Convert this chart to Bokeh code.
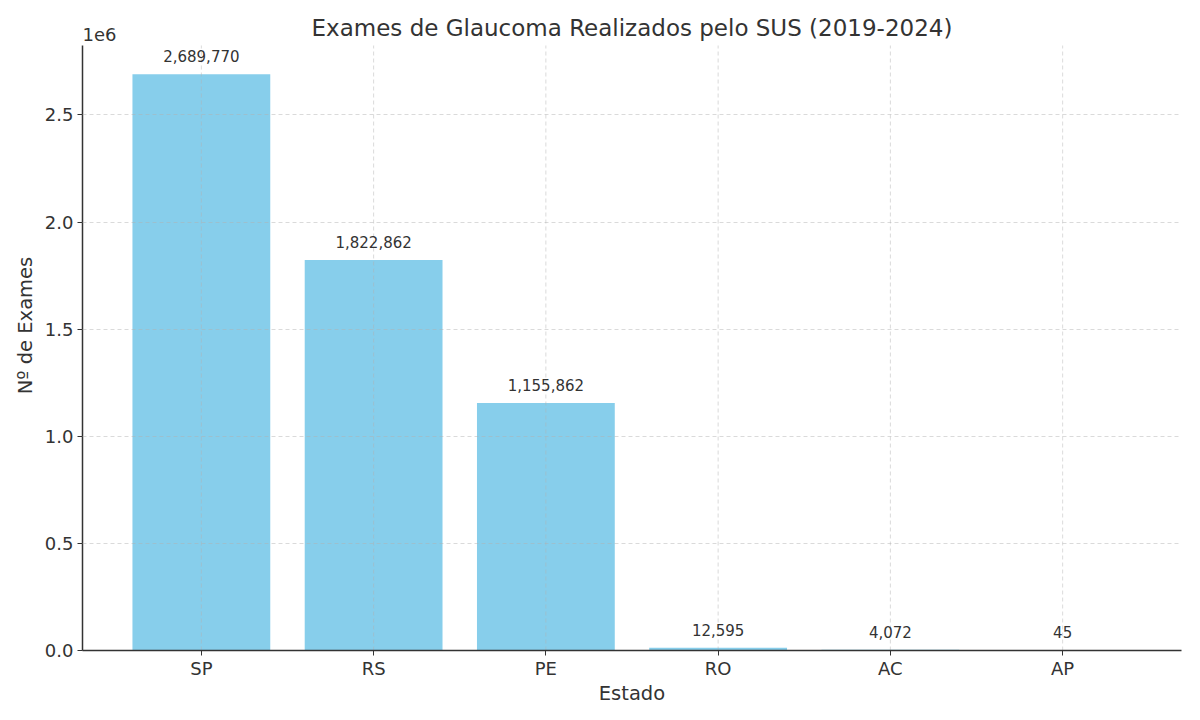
from bokeh.plotting import figure
from bokeh.models import Range1d, FixedTicker, CustomJSTickFormatter, ColumnDataSource, LabelSet, Label
from bokeh.core.properties import value
from bokeh.embed import file_html
from bokeh.resources import INLINE

titulo = "Exames de Glaucoma Realizados pelo SUS (2019-2024)"
estados = ["SP", "RS", "PE", "RO", "AC", "AP"]
exames = [2689770, 1822862, 1155862, 12595, 4072, 45]
y_ticks = [0, 500000, 1000000, 1500000, 2000000, 2500000]

FONT = "DejaVu Sans"
TXT = "#333333"

xs = list(range(len(estados)))
ymax = max(exames) * 1.05
src = ColumnDataSource(dict(x=xs, top=exames, lbl=[f"{v:,}" for v in exames]))
grid_src = ColumnDataSource(dict(x=xs, y0=[0] * len(xs), y1=[ymax] * len(xs)))

W, H = 1184, 707
AX_TOP, BOTTOM, LEFT, RIGHT = 45, 57, 82, 3
frame_h = H - BOTTOM
axes_h = frame_h - AX_TOP
y_end = ymax * frame_h / axes_h

p = figure(width=W, height=H, output_backend="svg", toolbar_location=None, title=None,
           x_range=Range1d(-0.69, len(estados) - 1 + 0.69), y_range=Range1d(0, y_end),
           min_border_left=LEFT, min_border_right=RIGHT, min_border_top=0, min_border_bottom=BOTTOM)
p.outline_line_color = None

p.vbar(x="x", top="top", width=0.8, bottom=0, source=src, color="#87CEEB", line_color=None)

# vertical grid lines, limited to the axes height
p.segment(x0="x", y0="y0", x1="x", y1="y1", source=grid_src, line_color="#b0b0b0",
          line_alpha=0.6, line_dash="4 3", line_width=0.8)

labels = LabelSet(x="x", y="top", text="lbl", source=src, text_align="center", text_baseline="alphabetic",
                  y_offset=12, text_font=value(FONT), text_font_size=value("15px"), text_color=TXT)
p.add_layout(labels)

p.xaxis.ticker = FixedTicker(ticks=xs)
p.xaxis.major_label_overrides = {i: e for i, e in zip(xs, estados)}
p.yaxis.ticker = FixedTicker(ticks=y_ticks)
p.yaxis.formatter = CustomJSTickFormatter(code="return (tick/1e6).toFixed(1);")
p.yaxis.bounds = (0, ymax)

for ax in (p.xaxis, p.yaxis):
    ax.axis_line_color = TXT
    ax.axis_line_width = 1.5
    ax.major_tick_line_color = TXT
    ax.major_tick_out = 5
    ax.major_tick_in = 0
    ax.minor_tick_line_color = None
    ax.major_label_text_font = FONT
    ax.major_label_text_font_size = "18px"
    ax.major_label_text_color = TXT
    ax.axis_label_text_font = FONT
    ax.axis_label_text_font_size = "19.5px"
    ax.axis_label_text_font_style = "normal"
    ax.axis_label_text_color = TXT

p.xaxis.major_label_standoff = 2
p.yaxis.major_label_standoff = 4
p.xaxis.axis_label = "Estado"
p.yaxis.axis_label = "Nº de Exames"
p.xaxis.axis_label_standoff = 0
p.yaxis.axis_label_standoff = 5

p.xgrid.visible = False
p.ygrid.grid_line_color = "#b0b0b0"
p.ygrid.grid_line_alpha = 0.6
p.ygrid.grid_line_dash = "4 3"
p.ygrid.grid_line_width = 0.8
p.ygrid.level = "overlay"

# title and offset text, drawn inside the (extended) frame
p.add_layout(Label(x=(len(estados) - 1) / 2, y=frame_h - 27, y_units="screen", text=titulo,
                   text_align="center", text_baseline="alphabetic",
                   text_font=FONT, text_font_size="23px", text_color=TXT))
p.add_layout(Label(x=0, y=frame_h - 34, x_units="screen", y_units="screen", text="1e6",
                   text_baseline="alphabetic", text_font=FONT, text_font_size="18px", text_color=TXT))

open("out.html", "w").write(file_html(p, INLINE))
